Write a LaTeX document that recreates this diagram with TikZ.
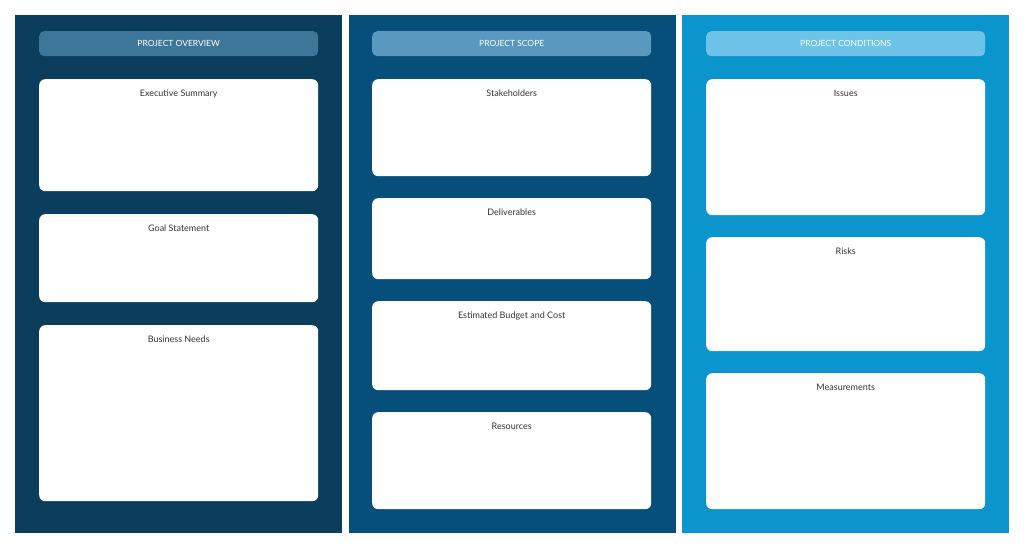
\documentclass[tikz,border=0pt]{standalone}
\usepackage{fontspec}
\setmainfont{Lato}
\usetikzlibrary{positioning}
\definecolor{colone}{HTML}{0B3D5C}
\definecolor{coltwo}{HTML}{064F7A}
\definecolor{colthree}{HTML}{0A95CC}
\definecolor{headone}{HTML}{3D7699}
\definecolor{headtwo}{HTML}{5A98BF}
\definecolor{headthree}{HTML}{6EC3E8}
\definecolor{txtgray}{HTML}{333333}
\begin{document}
\begin{tikzpicture}[x=1pt, y=-1pt,
        panel/.style={inner sep=0pt, minimum width=327pt, anchor=north west},
        header/.style={rounded corners=5pt, inner sep=0pt, minimum width=279pt, minimum height=25pt,
            anchor=north west, text=white, font=\fontsize{8.5}{10}\selectfont},
        card/.style={fill=white, rounded corners=6pt, inner sep=0pt, minimum width=279pt,
            anchor=north west, text=txtgray, font=\fontsize{9}{11}\selectfont},
        cardtitle/.style={anchor=north, text=txtgray, font=\fontsize{9}{11}\selectfont, inner sep=0pt},]

        \useasboundingbox[fill=white] (0,0) rectangle (1024,548);

        % columns
        \node[panel, fill=colone, minimum height=518pt] (overview) at (15,15) {};
        \node[panel, fill=coltwo, minimum height=518pt] (scope) at (349,15) {};
        \node[panel, fill=colthree, minimum height=518pt] (conditions) at (682,15) {};

        % headers
        \node[header, fill=headone] (hover) at (39,31) {PROJECT OVERVIEW};
        \node[header, fill=headtwo] (hscope) at (372,31) {PROJECT SCOPE};
        \node[header, fill=headthree] (hcond) at (706,31) {PROJECT CONDITIONS};

        % overview cards
        \node[card, minimum height=112pt] (summary) at (39,79) {};
        \node[card, minimum height=88pt] (goal) at (39,214) {};
        \node[card, minimum height=176pt] (needs) at (39,325) {};
        \node[cardtitle, below=11pt of summary.north] {Executive Summary};
        \node[cardtitle, below=11pt of goal.north] {Goal Statement};
        \node[cardtitle, below=11pt of needs.north] {Business Needs};

        % scope cards
        \node[card, minimum height=97pt] (stake) at (372,79) {};
        \node[card, minimum height=81pt] (deliv) at (372,198) {};
        \node[card, minimum height=89pt] (budget) at (372,301) {};
        \node[card, minimum height=97pt] (resources) at (372,412) {};
        \node[cardtitle, below=11pt of stake.north] {Stakeholders};
        \node[cardtitle, below=11pt of deliv.north] {Deliverables};
        \node[cardtitle, below=11pt of budget.north] {Estimated Budget and Cost};
        \node[cardtitle, below=11pt of resources.north] {Resources};

        % conditions cards
        \node[card, minimum height=136pt] (issues) at (706,79) {};
        \node[card, minimum height=114pt] (risks) at (706,237) {};
        \node[card, minimum height=136pt] (measure) at (706,373) {};
        \node[cardtitle, below=11pt of issues.north] {Issues};
        \node[cardtitle, below=11pt of risks.north] {Risks};
        \node[cardtitle, below=11pt of measure.north] {Measurements};
    \end{tikzpicture}
\end{document}
